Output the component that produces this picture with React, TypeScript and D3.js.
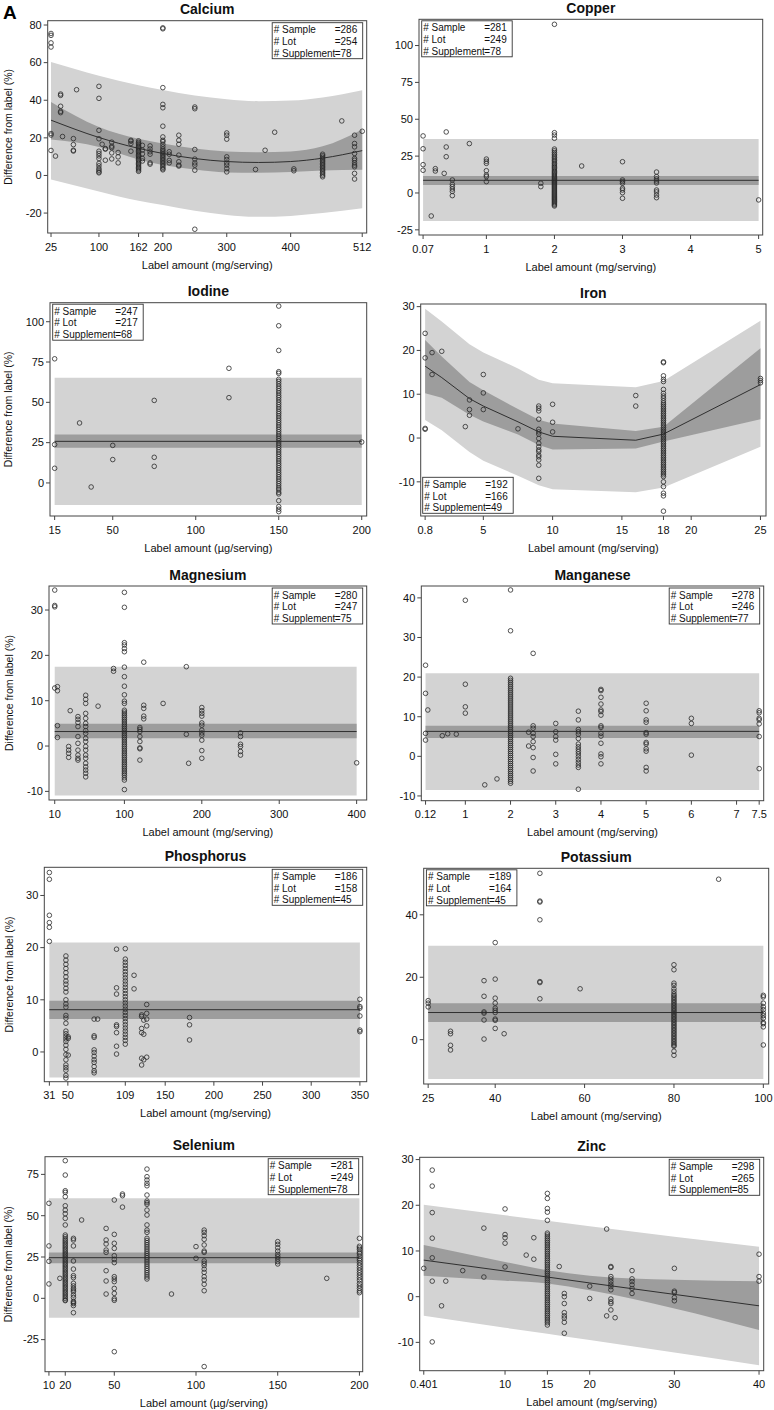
import React from "react";
import * as d3 from "d3";

type Group = [number, number[]];

// ---- Calcium ----
const calciumPts: Group[] = [
  [25, [75.5, 74.5, 70.5, 68.3, 22.3, 21.5, 13.3]],
  [32, [10.3]],
  [40, [43.3, 42.6, 36.8, 34.1, 33.4]],
  [43, [20.7]],
  [60, [19.6, 16.4, 13.4, 13]],
  [65, [45.6]],
  [100, [47.4, 41, 24, 19.5, 12.9, 11.7, 10.4, 9, 6.4, 5.1, 3.7, 2.8, 1.9, 1.4]],
  [105, [16.6]],
  [110, [14.3, 14, 8.1]],
  [120, [17.7, 15.6, 14.8, 12, 8.8]],
  [130, [12.2, 9.9, 6.7]],
  [150, [18.7, 18.2, 17, 12.9]],
  [162, [18.4, 17.6, 16.9, 16.2, 15.5, 14.8, 14.1, 13.4, 12.7, 12, 11.3, 10.6, 9.9, 9.2, 8.5, 7.8, 7.1, 6.4, 5.7, 5, 4.3, 3.6, 2.9, 2.2]],
  [168, [16, 13.5, 11.5, 9, 7.7]],
  [180, [15.7, 14.1, 12.6, 11.3, 6.7, 6]],
  [200, [78.5, 78, 46.7, 37.8, 36, 26.2, 20.5, 18.7, 18, 16.6, 15.2, 14, 13.2, 12.4, 11.6, 10.8, 10, 9.2, 8.4, 7.6, 6.8, 6, 5.2, 4.4, 3.6, 3]],
  [210, [12.6, 11.3, 8, 6.7]],
  [225, [21.4, 18.7, 16.6, 10.8, 7.3, 5.5, 5]],
  [250, [36.4, 35.5, 13.8, 8.7, 6.7, 5.5, 2.8, -28.6]],
  [300, [22.6, 21.4, 19.3, 9.9, 8.5, 6.7, 5.5, 3.7, 1.9]],
  [345, [3.2]],
  [360, [13.4]],
  [375, [23]],
  [405, [3.5, 2.5]],
  [450, [11.3, 10.5, 9.7, 8.9, 8.1, 7.3, 6.5, 5.7, 4.9, 4.1, 3.3, 2.5, 1.7, 0.9, 0.1, -0.7]],
  [480, [29]],
  [500, [21.4, 17, 15.2, 11.7, 9, 8.1, 6.7, 5.5, 4.6, 1.1, -1.9]],
  [512, [23.5]],
];
const calciumXTicks = [25, 100, 162, 200, 300, 400, 512];
const calciumYTicks = [-20, 0, 20, 40, 60, 80];
const calciumCounts = [286, 254, 78];
const calciumFitX = [25, 100, 162, 200, 250, 300, 350, 400, 450, 512];
const calciumFit = [29.4, 20.2, 14.4, 11.7, 9, 7.4, 6.9, 7.4, 9.2, 13.2];
const calciumCiLo = [19.1, 15.2, 8.5, 5.5, 3.2, 1.6, 1.4, 1.8, 2.6, 3];
const calciumCiHi = [39.1, 25.8, 19.5, 17, 14.3, 12.8, 12.4, 12.8, 15.5, 24.5];
const calciumPiLo = [-2.1, -8.5, -13.5, -15.7, -18.8, -21, -22, -21.5, -20, -17.5];
const calciumPiHi = [60.3, 53, 48, 45.5, 42.5, 40.5, 39.5, 39.8, 41.5, 45.3];

// ---- Copper ----
const copperPts: Group[] = [
  [0.07, [38.7, 30, 19.2, 15.4]],
  [0.19, [-15.6]],
  [0.25, [16.5, 14.9]],
  [0.38, [13.3]],
  [0.41, [41.4, 31.2, 24.6]],
  [0.5, [8.8, 5.9, 4.3, 2.7, 1.1, -1.8]],
  [0.75, [33.5]],
  [1, [23, 21.5, 20.1, 15.1, 12.2, 11.1, 7.7]],
  [1.8, [6.6, 4.3]],
  [2, [114.4, 40.9, 39.3, 37.1, 29.8, 28.6, 27.4, 26.2, 25.1, 24, 23, 22, 21, 20, 19, 18.2, 17.3, 16.4, 15.5, 14.6, 13.8, 13, 12.2, 11.4, 10.6, 9.8, 9, 8.3, 7.6, 6.9, 6.2, 5.5, 4.8, 4.1, 3.4, 2.7, 2, 1.3, 0.6, -0.1, -0.8, -1.5, -2.2, -2.9, -3.6, -4.3, -5, -5.8, -6.6, -7.4, -8.1, -8.8]],
  [2.4, [18.3]],
  [3, [21.2, 8.8, 7.7, 6.6, 3.2, 2, 0.2, -3.6]],
  [3.5, [14.2, 11.1, 9.5, 8.1, 6.8, 2, 0.7, -1.4, -3.2]],
  [5, [-4.7]],
];
const copperXTicks = [0.07, 1, 2, 3, 4, 5];
const copperYTicks = [-25, 0, 25, 50, 75, 100];
const copperCounts = [281, 249, 78];
const copperFitX = [0.07, 5];
const copperFit = [8.6, 8.6];
const copperCiLo = [5.4, 5.4];
const copperCiHi = [11.5, 11.5];
const copperPiLo = [-19, -19];
const copperPiHi = [36.6, 36.6];

// ---- Iodine ----
const iodinePts: Group[] = [
  [15, [77, 23.8, 9.1]],
  [30, [37.2]],
  [37, [-2.5]],
  [50, [23.3, 14.5]],
  [75, [51.2, 15.9, 10.3]],
  [120, [71.1, 52.9]],
  [150, [109.7, 97.5, 82.2, 69, 68, 64.3, 63, 61.5, 60, 58.6, 57.2, 55.8, 54.3, 53, 51.5, 50, 48.6, 47.2, 45.8, 44.3, 43, 41.6, 40.2, 38.8, 37.4, 36, 34.6, 33.2, 31.8, 30.4, 29, 27.6, 26.2, 24.8, 23.4, 22, 20.6, 19.2, 17.8, 16.4, 15, 13.6, 12.2, 10.8, 9.4, 8, 6.6, 5.2, 3.8, 2.4, 1, -0.4, -1.8, -3.2, -4.3, -5.8, -6.8, -11, -14.7, -16.3, -17.8]],
  [200, [25.4]],
];
const iodineXTicks = [15, 50, 100, 150, 200];
const iodineYTicks = [0, 25, 50, 75, 100];
const iodineCounts = [247, 217, 68];
const iodineFitX = [15, 200];
const iodineFit = [25.8, 25.8];
const iodineCiLo = [21.9, 21.9];
const iodineCiHi = [30, 30];
const iodinePiLo = [-13.6, -13.6];
const iodinePiHi = [65.3, 65.3];

// ---- Iron ----
const ironPts: Group[] = [
  [0.8, [23.9, 18.3, 2.2, 2]],
  [1.3, [19.5, 14.5]],
  [2, [19.8]],
  [3.7, [2.6]],
  [4, [8.7, 6.5, 5.2]],
  [5, [14.5, 10.3, 6.5]],
  [7.5, [2.1]],
  [9, [7.3, 6.8, 6.2, 4.3, 2, 1.4, 0.9, -0.1, -1.2, -2, -2.7, -3.1, -3.9, -4.3, -5, -6.2, -9.2]],
  [10, [7.7, 3.6, 1.4]],
  [16, [9.7, 7.3]],
  [18, [17.4, 17.2, 14.2, 13.4, 12.9, 11.1, 10.2, 9.6, 9.1, 8.5, 8, 7.6, 7.2, 6.8, 6.4, 6, 5.6, 5.2, 4.8, 4.4, 4, 3.6, 3.2, 2.8, 2.4, 2, 1.6, 1.2, 0.8, 0.4, 0, -0.4, -0.8, -1.2, -1.6, -2, -2.4, -2.8, -3.2, -3.6, -4, -4.4, -4.8, -5.2, -5.6, -6, -6.4, -6.8, -7.2, -7.6, -8, -8.4, -8.8, -10, -11.1, -12.6, -13.2, -16.7]],
  [25, [13.6, 13.1, 12.6]],
];
const ironXTicks = [0.8, 5, 10, 15, 18, 20, 25];
const ironYTicks = [-10, 0, 10, 20, 30];
const ironCounts = [192, 166, 49];
const ironFitX = [0.8, 2, 4, 5, 7.5, 9, 10, 16, 18, 25];
const ironFit = [16.4, 13.8, 9, 7.3, 3.7, 1.4, 0.4, -0.5, 0.9, 12.2];
const ironCiLo = [10.2, 9.2, 5.3, 3.8, 0.8, -1.6, -2.6, -2.4, -0.8, 4.3];
const ironCiHi = [22.4, 18.6, 12.8, 10.9, 6.6, 4.2, 3.3, 1.6, 2.6, 20.5];
const ironPiLo = [4.1, 1.8, -3.2, -5.2, -8.6, -10.8, -11.7, -12.4, -11.3, -2];
const ironPiHi = [29.5, 26.6, 21.4, 19.5, 15.9, 13.3, 12.5, 11.6, 13, 26.8];

// ---- Magnesium ----
const magnesiumPts: Group[] = [
  [10, [34.4, 31, 30.7, 12.8]],
  [13.5, [13.1, 12.2, 4.5, 1.9]],
  [28, [-0.1, -0.9, -1.6, -2.5]],
  [30, [7.8]],
  [40, [6.5, 5.9, 5.2, 4.3, 2.1, 0.6, -0.9, -2, -2.7, -3.1]],
  [50, [11.2, 10.3, 9.4, 7.2, 6.1, 5, 4.3, 3.4, 2.8, 1.7, 1, -0.1, -0.9, -2, -2.7, -3.8, -4.6, -5.3, -6, -6.8]],
  [66, [8.8]],
  [86, [17.1, 16.5]],
  [100, [33.9, 30.6, 22.8, 22.3, 21.5, 20.8, 17.4, 15.3, 13.2, 11.3, 9.9, 9.4, 7.9, 7.5, 7.1, 6.7, 6.3, 5.9, 5.5, 5.1, 4.7, 4.3, 3.9, 3.5, 3.1, 2.7, 2.3, 1.9, 1.5, 1.1, 0.7, 0.3, -0.1, -0.5, -0.9, -1.3, -1.7, -2.1, -2.5, -2.9, -3.3, -3.7, -4.1, -4.5, -4.9, -5.3, -5.7, -6.1, -6.5, -7, -7.5, -9.6]],
  [120, [4.1, 3.7, 3.2, 2.1, 1, -0.4, -0.6, -3.1]],
  [125, [18.5, 9, 8.3, 6.6, 6]],
  [150, [9.4]],
  [180, [17.5, 2.6]],
  [183, [-3.8]],
  [200, [8.5, 7.8, 7.2, 6.6, 5.1, 4.6, 3.5, 2.9, 2.4, 1.3, -1, -2.7]],
  [250, [2.9, 2.1, 0.4, -0.1, -1.2, -2]],
  [400, [-3.7]],
];
const magnesiumXTicks = [10, 100, 200, 300, 400];
const magnesiumYTicks = [-10, 0, 10, 20, 30];
const magnesiumCounts = [280, 247, 75];
const magnesiumFitX = [10, 400];
const magnesiumFit = [3.2, 3.2];
const magnesiumCiLo = [1.7, 1.7];
const magnesiumCiHi = [4.9, 4.9];
const magnesiumPiLo = [-10.9, -10.9];
const magnesiumPiHi = [17.5, 17.5];

// ---- Manganese ----
const manganesePts: Group[] = [
  [0.12, [23, 15.9, 5.8, 4.1]],
  [0.17, [11.7]],
  [0.49, [5.2]],
  [0.61, [5.7]],
  [0.8, [5.6]],
  [1, [39.4, 18.2, 12.5, 10.9]],
  [1.43, [-7.2]],
  [1.7, [-5.7]],
  [2, [42, 31.7, 19.7, 19.2, 18.7, 18.2, 17.7, 17.2, 16.7, 16.2, 15.7, 15.2, 14.7, 14.2, 13.7, 13.2, 12.7, 12.2, 11.7, 11.2, 10.7, 10.2, 9.7, 9.2, 8.7, 8.2, 7.7, 7.2, 6.7, 6.2, 5.7, 5.2, 4.7, 4.2, 3.7, 3.2, 2.7, 2.2, 1.7, 1.2, 0.7, 0.2, -0.3, -0.8, -1.3, -1.8, -2.3, -2.8, -3.3, -3.8, -4.3, -4.8, -5.3, -5.8, -6.3, -6.8]],
  [2.4, [6.1, 2.6]],
  [2.5, [26, 7.7, 7.1, 5.8, 5, 3.7, 2.2, -0.3, -3.7]],
  [3, [8.3, 6.2, 5, 4.1, 0.5, -1.9]],
  [3.5, [11.4, 9.2, 6.8, 6.2, 5.6, 4.5, 3.1, 2.4, 1.8, 1.2, 0.6, -0.1, -0.8, -1.5, -2.2, -2.8, -8.3]],
  [4, [16.9, 16.6, 14.9, 13.2, 11.7, 11.3, 10.4, 7.7, 7.3, 5.8, 5.1, 3.3, 0.6, -0.1, -1.9]],
  [5, [13.4, 11.5, 9.2, 8.6, 6, 5.6, 3.5, 3.1, 1.9, 1.3, -2.8, -3.7]],
  [6, [9.6, 8.3, 0.3]],
  [7.5, [11.5, 11, 9.6, 9.2, 8.2, 5, -3.1]],
];
const manganeseXTicks = [0.12, 1, 2, 3, 4, 5, 6, 7, 7.5];
const manganeseYTicks = [-10, 0, 10, 20, 30, 40];
const manganeseCounts = [278, 246, 77];
const manganeseFitX = [0.12, 7.5];
const manganeseFit = [6.3, 6.3];
const manganeseCiLo = [4.6, 4.6];
const manganeseCiHi = [7.7, 7.7];
const manganesePiLo = [-8.5, -8.5];
const manganesePiHi = [21, 21];

// ---- Phosphorus ----
const phosphorusPts: Group[] = [
  [31, [34.4, 33.1, 26.2, 24.8, 23.9, 21.2]],
  [48, [18.4, 17.6, 16.8, 16, 15.2, 14.4, 13.6, 13, 12.2, 11.5, 10, 9.2, 8.6, 7, 6.5, 5.5, 4, 3.5, 3, 2.5, 2, 1.3, 0.5, -0.5, -1.5, -2.5, -3, -3.5, -4.5, -5]],
  [50.4, [2.9, 2.6, -0.6]],
  [77, [6.3, 3.1, 2.8, 0.4, -0.1, -0.8, -1.5, -2, -2.8, -3.6, -4]],
  [80.6, [6.3]],
  [100, [19.7, 12.3, 11.1, 5.2, 4.9, 3.7, 1.1, -0.4]],
  [109, [19.8, 17.8, 17.2, 16.6, 16, 15.4, 14.8, 14.2, 13.6, 13, 12.4, 11.8, 11.2, 10.6, 10, 9.4, 8.8, 8.2, 7.6, 7, 6.4, 5.8, 5.2, 4.6, 4, 3.4, 2.8, 2.2, 1.5]],
  [118, [14.7, 12.1]],
  [125.8, [7.1, 6.8, 4.5, 3.7, -1.2, -2.5]],
  [128, [6.1, 3.4, -1.5]],
  [131, [9.1, 7.4, 6.3, 5, -1]],
  [175, [6.6, 5.2, 2.3]],
  [350, [10.1, 8.7, 8.4, 6.9, 4.2, 3.9]],
];
const phosphorusXTicks = [31, 50, 109, 150, 200, 250, 300, 350];
const phosphorusYTicks = [0, 10, 20, 30];
const phosphorusCounts = [186, 158, 45];
const phosphorusFitX = [31, 350];
const phosphorusFit = [8.1, 8.1];
const phosphorusCiLo = [6.3, 6.3];
const phosphorusCiHi = [9.8, 9.8];
const phosphorusPiLo = [-4.9, -4.9];
const phosphorusPiHi = [21, 21];

// ---- Potassium ----
const potassiumPts: Group[] = [
  [25, [12.5, 11.7, 10.5]],
  [30, [2.7, 1.9, -1.8, -3.3]],
  [37.5, [18.9, 13.9, 8.9, 8.5, 6.3, 0.2]],
  [40, [31.1, 19.4, 13.3, 11.7, 10.1, 9.4, 8.7, 6.6, 6.2, 3.6]],
  [42, [1.9]],
  [50, [53.3, 44.4, 44.1, 38.4, 18.6, 18.3, 13.1]],
  [59, [16.3]],
  [80, [24, 22.4, 18.1, 17.4, 16.3, 15.5, 14.7, 14.2, 13.7, 13.2, 12.7, 12.2, 11.7, 11.2, 10.7, 10.2, 9.7, 9.2, 8.7, 8.2, 7.7, 7.2, 6.7, 6.2, 5.7, 5.2, 4.7, 4.2, 3.7, 3.2, 2.7, 2.2, 1.7, 1.2, 0.7, 0.2, -0.3, -0.8, -1.3, -1.8, -2.1, -3.7, -5]],
  [90, [51.4]],
  [100, [14.2, 13.7, 11.7, 10.5, 9.6, 8.5, 7.7, 6.9, 5.5, 5.1, 4.1, -1.7]],
];
const potassiumXTicks = [25, 40, 60, 80, 100];
const potassiumYTicks = [0, 20, 40];
const potassiumCounts = [189, 164, 45];
const potassiumFitX = [25, 100];
const potassiumFit = [8.7, 8.7];
const potassiumCiLo = [5.7, 5.7];
const potassiumCiHi = [11.7, 11.7];
const potassiumPiLo = [-12.6, -12.6];
const potassiumPiHi = [30.1, 30.1];

// ---- Selenium ----
const seleniumPts: Group[] = [
  [10, [57.5, 31.7, 22.4, 8.7]],
  [16.7, [12.1]],
  [20, [83.3, 74.6, 65.1, 64.1, 61.5, 56, 53.4, 51.2, 48.4, 44.4, 38.3, 37.2, 36, 35, 34, 33, 32, 31, 30, 29, 28, 27, 26, 25, 24, 23, 22, 21, 20, 19, 18, 17, 16, 15, 14, 13, 12, 11, 10, 9, 8, 7, 6, 5, 4, 3, 2, 1, 0, -1, -1.4]],
  [25, [36.3, 35.3, 31.7, 22.6, 17.7, 13.7, 12.5, 9.1, 7.5, 6, 5, 4, 2, 0.5, -1.8, -2.5, -3.2, -4.4, -8.7]],
  [30, [47.4]],
  [45, [42.3, 35.3, 32.9, 29.2, 27.8, 16.7, 10.5, 2.6]],
  [50, [59.5, 38.7, 33.3, 30.2, 25.8, 23.6, 21.6, 13.1, 11.7, 10.1, 6, 3, -0.2, -1.2, -32.3]],
  [55, [63.1, 62.1, 55.2]],
  [70, [78.2, 73.6, 71.6, 69.6, 68.1, 62.5, 58.9, 57.9, 56.9, 53.4, 50.4, 44.4, 41.3, 39.9, 36.3, 35, 33.7, 32.4, 31.1, 29.8, 28.5, 27.2, 25.9, 24.6, 23.3, 22, 20.7, 19.4, 18.1, 16.8, 15.5, 14.2, 12.9, 11.7]],
  [85, [2.6]],
  [100, [31.3, 24.2]],
  [105, [41.3, 39.9, 37.9, 35.7, 32.3, 28.6, 27.8, 22.6, 21.2, 19.8, 17.7, 15.7, 13.1, 11.1, 8.5, 4.6, -41.3]],
  [150, [34.3, 32.7, 30.6, 28.6, 26.6, 25.2, 23.8, 22.2, 20.8]],
  [180, [12.1]],
  [200, [36.3, 31.5, 30.5, 29.5, 28, 27, 25.5, 24, 23, 21.5, 20, 18.5, 17, 15.5, 14, 12.5, 11, 9, 7.5, 6, 4.5, 3.4]],
];
const seleniumXTicks = [10, 20, 50, 100, 150, 200];
const seleniumYTicks = [-25, 0, 25, 50, 75];
const seleniumCounts = [281, 249, 78];
const seleniumFitX = [10, 200];
const seleniumFit = [24.6, 24.6];
const seleniumCiLo = [21.2, 21.2];
const seleniumCiHi = [27.8, 27.8];
const seleniumPiLo = [-11.7, -11.7];
const seleniumPiHi = [60.5, 60.5];

// ---- Zinc ----
const zincPts: Group[] = [
  [0.401, [6.2]],
  [1.4, [27.7, 24.2, 18.4, 12.8, 8.5, 3.4, -9.9]],
  [2.5, [-2]],
  [3, [3.4]],
  [5, [5.7]],
  [7.5, [15, 4.3]],
  [10, [19.2, 13.6, 12.9, 11.7, 6.5]],
  [12.5, [9.1]],
  [13.4, [12.9, 8.2]],
  [15, [22.6, 21.5, 19.3, 18.5, 16.7, 13.9, 13.5, 13.1, 12.7, 12.3, 11.9, 11.5, 11.1, 10.7, 10.3, 9.9, 9.5, 9.1, 8.7, 8.3, 7.9, 7.5, 7.1, 6.7, 6.3, 5.9, 5.5, 5.1, 4.7, 4.3, 3.9, 3.5, 3.1, 2.7, 2.3, 1.9, 1.5, 1.1, 0.7, 0.3, -0.1, -0.5, -0.9, -1.3, -1.7, -2.1, -2.5, -2.9, -3.3, -3.7, -4.1, -4.5, -4.9, -5.3, -5.7, -6.2]],
  [16.4, [6.6]],
  [17, [0.7, 0, -1.5, -3.5, -4.2, -4.7, -5.6, -8]],
  [20, [2.3, -0.4]],
  [22, [14.8, -4.2]],
  [22.5, [6.6, 6.4, 4.4, 3.9, 3.3, 2.7, 2.2, 1.5, -0.5, -1.1, -1.5, -2.9]],
  [23, [-4.6]],
  [25, [5.7, 3.9, 3.3, 2.6, 1.8, 0.7]],
  [30, [6.2, 1.2, 0.9, -0.2, -0.9]],
  [40, [9.3, 4.4, 3.4]],
];
const zincXTicks = [0.401, 10, 15, 20, 30, 40];
const zincYTicks = [-10, 0, 10, 20, 30];
const zincCounts = [298, 265, 85];
const zincFitX = [0.401, 10, 15, 20, 30, 40];
const zincFit = [8, 5.6, 4.3, 3, 0.5, -2];
const zincCiLo = [4.6, 3.5, 2.9, 1.4, -2.6, -7.3];
const zincCiHi = [11.3, 7.6, 5.8, 4.6, 3.7, 3.4];
const zincPiLo = [-4.2, -6.8, -8.1, -9.5, -12.2, -15];
const zincPiHi = [20.1, 17.8, 16.6, 15.4, 13.1, 10.9];

const legendLabels = ["# Sample", "# Lot", "# Supplement"];

const FONT = "'Liberation Sans', Arial, Helvetica, sans-serif";
const LIGHT = "#d3d3d3";
const DARK = "#9d9d9d";

const panels = [
  { name: "Calcium", pts: calciumPts, xTicks: calciumXTicks, yTicks: calciumYTicks, counts: calciumCounts,
    fitX: calciumFitX, fit: calciumFit, ciLo: calciumCiLo, ciHi: calciumCiHi, piLo: calciumPiLo, piHi: calciumPiHi,
    xDomain: [19.8, 519], yDomain: [-30.6, 82.3], frame: [47.7, 20.7, 366.7, 233], unit: "mg/serving", yTitle: true, legend: "tr", smooth: true },
  { name: "Copper", pts: copperPts, xTicks: copperXTicks, yTicks: copperYTicks, counts: copperCounts,
    fitX: copperFitX, fit: copperFit, ciLo: copperCiLo, ciHi: copperCiHi, piLo: copperPiLo, piHi: copperPiHi,
    xDomain: [0.01, 5.06], yDomain: [-28.5, 117.8], frame: [419, 19.3, 762.7, 235], unit: "mg/serving", yTitle: false, legend: "tl", smooth: false },
  { name: "Iodine", pts: iodinePts, xTicks: iodineXTicks, yTicks: iodineYTicks, counts: iodineCounts,
    fitX: iodineFitX, fit: iodineFit, ciLo: iodineCiLo, ciHi: iodineCiHi, piLo: iodinePiLo, piHi: iodinePiHi,
    xDomain: [12.2, 203], yDomain: [-20.5, 111.8], frame: [50, 302.7, 366.7, 516], unit: "µg/serving", yTitle: true, legend: "tl", smooth: false },
  { name: "Iron", pts: ironPts, xTicks: ironXTicks, yTicks: ironYTicks, counts: ironCounts,
    fitX: ironFitX, fit: ironFit, ciLo: ironCiLo, ciHi: ironCiHi, piLo: ironPiLo, piHi: ironPiHi,
    xDomain: [0.48, 25.4], yDomain: [-17.8, 30.6], frame: [420.7, 304, 766, 516], unit: "mg/serving", yTitle: false, legend: "bl", smooth: false },
  { name: "Magnesium", pts: magnesiumPts, xTicks: magnesiumXTicks, yTicks: magnesiumYTicks, counts: magnesiumCounts,
    fitX: magnesiumFitX, fit: magnesiumFit, ciLo: magnesiumCiLo, ciHi: magnesiumCiHi, piLo: magnesiumPiLo, piHi: magnesiumPiHi,
    xDomain: [2.6, 413], yDomain: [-11.9, 35.3], frame: [49, 586, 366.7, 800], unit: "mg/serving", yTitle: true, legend: "tr", smooth: false },
  { name: "Manganese", pts: manganesePts, xTicks: manganeseXTicks, yTicks: manganeseYTicks, counts: manganeseCounts,
    fitX: manganeseFitX, fit: manganeseFit, ciLo: manganeseCiLo, ciHi: manganeseCiHi, piLo: manganesePiLo, piHi: manganesePiHi,
    xDomain: [0.026, 7.6], yDomain: [-11.2, 43], frame: [421.3, 586, 763.7, 800.7], unit: "mg/serving", yTitle: false, legend: "tr", smooth: false },
  { name: "Phosphorus", pts: phosphorusPts, xTicks: phosphorusXTicks, yTicks: phosphorusYTicks, counts: phosphorusCounts,
    fitX: phosphorusFitX, fit: phosphorusFit, ciLo: phosphorusCiLo, ciHi: phosphorusCiHi, piLo: phosphorusPiLo, piHi: phosphorusPiHi,
    xDomain: [25.8, 357], yDomain: [-5.7, 35.4], frame: [44.3, 867.3, 366.7, 1081.7], unit: "mg/serving", yTitle: true, legend: "tr", smooth: false },
  { name: "Potassium", pts: potassiumPts, xTicks: potassiumXTicks, yTicks: potassiumYTicks, counts: potassiumCounts,
    fitX: potassiumFitX, fit: potassiumFit, ciLo: potassiumCiLo, ciHi: potassiumCiHi, piLo: potassiumPiLo, piHi: potassiumPiHi,
    xDomain: [24, 101.2], yDomain: [-14.2, 54.9], frame: [423.7, 868.3, 768.7, 1084], unit: "mg/serving", yTitle: false, legend: "tl", smooth: false },
  { name: "Selenium", pts: seleniumPts, xTicks: seleniumXTicks, yTicks: seleniumYTicks, counts: seleniumCounts,
    fitX: seleniumFitX, fit: seleniumFit, ciLo: seleniumCiLo, ciHi: seleniumCiHi, piLo: seleniumPiLo, piHi: seleniumPiHi,
    xDomain: [7.6, 202], yDomain: [-44.4, 85.7], frame: [45, 1156.7, 362.7, 1371.7], unit: "µg/serving", yTitle: true, legend: "tr", smooth: false },
  { name: "Zinc", pts: zincPts, xTicks: zincXTicks, yTicks: zincYTicks, counts: zincCounts,
    fitX: zincFitX, fit: zincFit, ciLo: zincCiLo, ciHi: zincCiHi, piLo: zincPiLo, piHi: zincPiHi,
    xDomain: [-0.08, 40.55], yDomain: [-16.2, 30.5], frame: [419.7, 1157.3, 763.7, 1370.7], unit: "mg/serving", yTitle: false, legend: "tr", smooth: true },
];

type PanelDef = (typeof panels)[number];

function Panel({ p }: { p: PanelDef }) {
  const [l, t, r, b] = p.frame;
  const x = d3.scaleLinear().domain(p.xDomain).range([l, r]);
  const y = d3.scaleLinear().domain(p.yDomain).range([b, t]);
  const curve = p.smooth ? d3.curveMonotoneX : d3.curveLinear;
  const idx = p.fitX.map((_, i) => i);

  const band = (lo: number[], hi: number[]) =>
    d3.area<number>()
      .x((i) => x(p.fitX[i]))
      .y0((i) => y(lo[i]))
      .y1((i) => y(hi[i]))
      .curve(curve)(idx) || "";
  const fitLine =
    d3.line<number>()
      .x((i) => x(p.fitX[i]))
      .y((i) => y(p.fit[i]))
      .curve(curve)(idx) || "";

  // legend box placement
  const lw = 90.5;
  const lh = 36;
  let lx = r - 4 - lw;
  let ly = t + 2;
  if (p.legend === "tl") { lx = l + 2.7; ly = t + 1.5; }
  if (p.legend === "bl") { lx = l + 2; ly = b - 2.7 - lh; }

  const midY = (t + b) / 2;

  return (
    <g>
      <text x={(l + r) / 2} y={t - 6.5} textAnchor="middle" fontSize={14} fontWeight="bold" fill="#111">
        {p.name}
      </text>

      <path d={band(p.piLo, p.piHi)} fill={LIGHT} />
      <path d={band(p.ciLo, p.ciHi)} fill={DARK} />
      <path d={fitLine} fill="none" stroke="#222" strokeWidth={0.9} />

      <g fill="none" stroke="#2a2a2a" strokeWidth={0.8}>
        {p.pts.map(([xv, ys]) =>
          ys.map((yv, j) => <circle key={`${xv}-${j}`} cx={x(xv)} cy={y(yv)} r={2.3} />)
        )}
      </g>

      <g>
        <rect x={lx} y={ly} width={lw} height={lh} fill="#fff" stroke="#333" strokeWidth={0.9} />
        {legendLabels.map((lab, i) => (
          <g key={lab} fontSize={10} fill="#111">
            <text x={lx + 1.5} y={ly + 10.5 + i * 11.7}>{lab}</text>
            <text x={lx + 62.5} y={ly + 10.5 + i * 11.7}>{`=${p.counts[i]}`}</text>
          </g>
        ))}
      </g>

      <rect x={l} y={t} width={r - l} height={b - t} fill="none" stroke="#444" strokeWidth={1} />

      {p.yTicks.map((v) => (
        <g key={`y${v}`}>
          <line x1={l - 4} x2={l} y1={y(v)} y2={y(v)} stroke="#444" />
          <text x={l - 6} y={y(v)} dy="0.35em" textAnchor="end" fontSize={11} fill="#111">{v}</text>
        </g>
      ))}
      {p.xTicks.map((v) => (
        <g key={`x${v}`}>
          <line x1={x(v)} x2={x(v)} y1={b} y2={b + 4} stroke="#444" />
          <text x={x(v)} y={b + 17.5} textAnchor="middle" fontSize={11} fill="#111">{v}</text>
        </g>
      ))}

      <text x={(l + r) / 2} y={b + 35.5} textAnchor="middle" fontSize={11} fill="#111">
        {`Label amount (${p.unit})`}
      </text>
      {p.yTitle && (
        <text
          x={12.5}
          y={midY}
          transform={`rotate(-90, 12.5, ${midY})`}
          textAnchor="middle"
          fontSize={10.5}
          fill="#111"
        >
          Difference from label (%)
        </text>
      )}
    </g>
  );
}

export default function App() {
  return (
    <div style={{ position: "absolute", left: 0, top: 0, background: "#fff" }}>
      <svg width={774} height={1410} style={{ display: "block", fontFamily: FONT }}>
        <rect width={774} height={1410} fill="#fff" />
        <text x={3} y={18.5} fontSize={19} fontWeight="bold" fill="#000">A</text>
        {panels.map((p) => (
          <Panel key={p.name} p={p} />
        ))}
      </svg>
    </div>
  );
}
